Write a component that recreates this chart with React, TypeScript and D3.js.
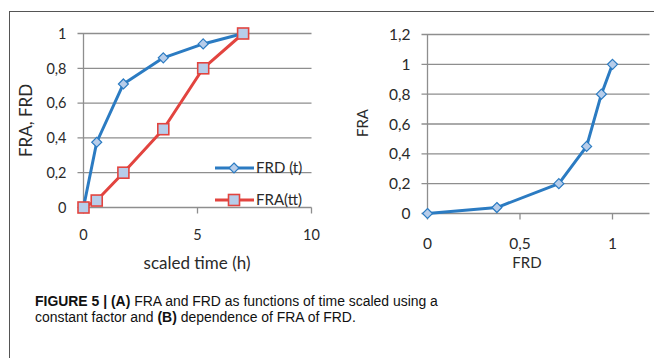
import React from "react";
import * as d3 from "d3";

const timeH = [0, 0.58, 1.75, 3.5, 5.25, 7];
const frdValues = [0, 0.375, 0.71, 0.86, 0.94, 1];
const fraValues = [0, 0.04, 0.2, 0.45, 0.8, 1];

const leftYTicks = [0, 0.2, 0.4, 0.6, 0.8, 1];
const leftXTicks = [0, 5, 10];
const rightYTicks = [0, 0.2, 0.4, 0.6, 0.8, 1, 1.2];
const rightXTicks = [0, 0.5, 1];

const seriesNames = ["FRD (t)", "FRA(tt)"];

const BLUE = "#2b7bc2";
const RED = "#e2443f";
const FILL = "#b7cdea";
const GRID = "#8e8e8e";
const TXT = "#2a2a2a";
const FONT = "Lato, 'Open Sans', sans-serif";
const TICK_FS = 14.5;
const RTICK_FS = 15.5;

const fmt = (v: number) => String(v).replace(".", ",");

function Diamond({ x, y, stroke }: { x: number; y: number; stroke: string }) {
  const r = 5;
  return (
    <path
      d={`M${x},${y - r}L${x + r},${y}L${x},${y + r}L${x - r},${y}Z`}
      fill={FILL}
      stroke={stroke}
      strokeWidth={1.2}
    />
  );
}

function Square({ x, y, stroke }: { x: number; y: number; stroke: string }) {
  const s = 5.5;
  return (
    <rect x={x - s} y={y - s} width={2 * s} height={2 * s} fill={FILL} stroke={stroke} strokeWidth={1.6} />
  );
}

export default function App() {
  const lx = d3.scaleLinear().domain([0, 10]).range([83.5, 311.5]);
  const ly = d3.scaleLinear().domain([0, 1]).range([207.5, 33.5]);
  const rx = d3.scaleLinear().domain([0, 1.2]).range([427.5, 649.5]);
  const ry = d3.scaleLinear().domain([0, 1.2]).range([213.5, 34.5]);

  const lineL = (ys: number[]) =>
    d3.line<number>().x((_, i) => lx(timeH[i])).y((d) => ly(d))(ys) || "";
  const lineR =
    d3
      .line<number>()
      .x((d) => rx(d))
      .y((_, i) => ry(fraValues[i]))(frdValues) || "";

  return (
    <svg
      width={654}
      height={358}
      style={{ position: "absolute", left: 0, top: 0, background: "#fff" }}
      fontFamily={FONT}
    >
      <rect x={0} y={0} width={654} height={358} fill="#fff" />
      <line x1={9} y1={11.5} x2={654} y2={11.5} stroke="#555" strokeWidth={1} />
      <line x1={9.5} y1={11} x2={9.5} y2={358} stroke="#555" strokeWidth={1} />

      {/* LEFT CHART */}
      <g>
        {leftYTicks.map((t) => (
          <g key={"lg" + t}>
            {t > 0 && (
              <line x1={lx(0) - 6} x2={lx(10)} y1={ly(t)} y2={ly(t)} stroke={GRID} strokeWidth={1.3} />
            )}
            <text x={66.5} y={ly(t)} dy="0.36em" textAnchor="end" fontSize={TICK_FS} fill={TXT}>
              {fmt(t)}
            </text>
          </g>
        ))}
        <line x1={lx(0)} x2={lx(0)} y1={ly(1)} y2={ly(0)} stroke={GRID} strokeWidth={1.3} />
        <line x1={lx(0) - 6} x2={lx(10)} y1={ly(0)} y2={ly(0)} stroke={GRID} strokeWidth={1.3} />
        {leftXTicks.map((t) => (
          <g key={"lx" + t}>
            <line x1={lx(t)} x2={lx(t)} y1={ly(0)} y2={ly(0) + 6} stroke={GRID} strokeWidth={1.3} />
            <text x={lx(t)} y={235} dy="0.36em" textAnchor="middle" fontSize={TICK_FS} fill={TXT}>
              {t}
            </text>
          </g>
        ))}
        <text x={197} y={263} dy="0.36em" textAnchor="middle" fontSize={17} fill={TXT}>
          scaled time (h)
        </text>
        <text
          transform="translate(26,120.5) rotate(-90)"
          dy="0.36em"
          textAnchor="middle"
          fontSize={17}
          fill={TXT}
        >
          FRA, FRD
        </text>

        <path d={lineL(frdValues)} fill="none" stroke={BLUE} strokeWidth={3} strokeLinejoin="round" />
        <path d={lineL(fraValues)} fill="none" stroke={RED} strokeWidth={3} strokeLinejoin="round" />
        {frdValues.map((v, i) => (
          <Diamond key={"d" + i} x={lx(timeH[i])} y={ly(v)} stroke={BLUE} />
        ))}
        {fraValues.map((v, i) => (
          <Square key={"s" + i} x={lx(timeH[i])} y={ly(v)} stroke={RED} />
        ))}

        <line x1={215} x2={254} y1={168} y2={168} stroke={BLUE} strokeWidth={3} />
        <Diamond x={234} y={168} stroke={BLUE} />
        <text x={256} y={168} dy="0.36em" fontSize={15} fill={TXT}>
          {seriesNames[0]}
        </text>
        <line x1={215} x2={254} y1={200} y2={200} stroke={RED} strokeWidth={3} />
        <Square x={234} y={200} stroke={RED} />
        <text x={256} y={200} dy="0.36em" fontSize={15} fill={TXT}>
          {seriesNames[1]}
        </text>
      </g>

      {/* RIGHT CHART */}
      <g>
        {rightYTicks.map((t) => (
          <g key={"rg" + t}>
            {t > 0 && (
              <line x1={rx(0) - 6} x2={rx(1.2)} y1={ry(t)} y2={ry(t)} stroke={GRID} strokeWidth={1.3} />
            )}
            <text x={410.5} y={ry(t)} dy="0.36em" textAnchor="end" fontSize={RTICK_FS} fill={TXT}>
              {fmt(t)}
            </text>
          </g>
        ))}
        <line x1={rx(0)} x2={rx(0)} y1={ry(1.2)} y2={ry(0)} stroke={GRID} strokeWidth={1.3} />
        <line x1={rx(0) - 6} x2={rx(1.2)} y1={ry(0)} y2={ry(0)} stroke={GRID} strokeWidth={1.3} />
        {rightXTicks.map((t) => (
          <g key={"rx" + t}>
            <line x1={rx(t)} x2={rx(t)} y1={ry(0)} y2={ry(0) + 6} stroke={GRID} strokeWidth={1.3} />
            <text x={rx(t)} y={243} dy="0.36em" textAnchor="middle" fontSize={RTICK_FS} fill={TXT}>
              {fmt(t)}
            </text>
          </g>
        ))}
        <text x={527} y={263} dy="0.36em" textAnchor="middle" fontSize={15} fill={TXT}>
          FRD
        </text>
        <text transform="translate(363,123) rotate(-90)" dy="0.36em" textAnchor="middle" fontSize={15} fill={TXT}>
          FRA
        </text>
        <path d={lineR} fill="none" stroke={BLUE} strokeWidth={3} strokeLinejoin="round" />
        {frdValues.map((v, i) => (
          <Diamond key={"rd" + i} x={rx(v)} y={ry(fraValues[i])} stroke={BLUE} />
        ))}
      </g>

      {/* caption */}
      <g
        transform="translate(35,0) scale(0.9,1)"
        fontFamily="'Liberation Sans', Arial, sans-serif"
        fontSize={15.5}
        fill="#111"
      >
        <text x={0} y={306.5}>
          <tspan fontWeight="bold">FIGURE 5 | (A)</tspan>
          <tspan> FRA and FRD as functions of time scaled using a</tspan>
        </text>
        <text x={0} y={322.5}>
          <tspan>constant factor and </tspan>
          <tspan fontWeight="bold">(B)</tspan>
          <tspan> dependence of FRA of FRD.</tspan>
        </text>
      </g>
    </svg>
  );
}
